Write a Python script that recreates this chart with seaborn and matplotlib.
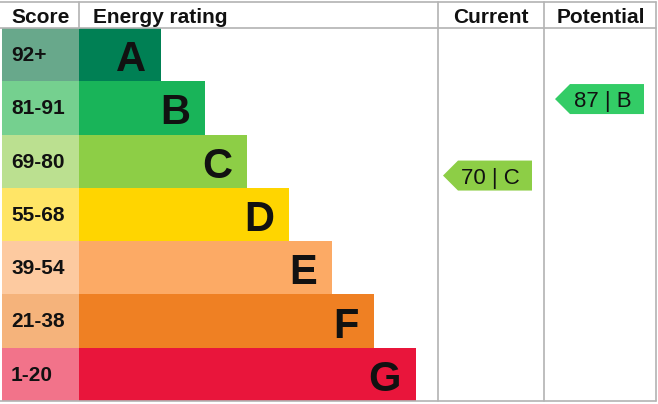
import numpy as np
import matplotlib
matplotlib.use("Agg")
import matplotlib.pyplot as plt
from matplotlib.patches import Polygon
import seaborn as sns

# ---------------------------------------------------------
# data
# ---------------------------------------------------------
bands = ["A", "B", "C", "D", "E", "F", "G"]
score_ranges = ["92+", "81-91", "69-80", "55-68", "39-54", "21-38", "1-20"]
band_lo = [92, 81, 69, 55, 39, 21, 1]
band_hi = [100, 91, 80, 68, 54, 38, 20]
bar_len = [82, 126, 168, 210, 253, 295, 337]   # bar length, px from bar start
bar_colors = ["#008054", "#19b459", "#8dce46", "#ffd500", "#fcaa65", "#ef8023", "#e9153b"]
score_colors = ["#68a88b", "#75d08f", "#bbe090", "#ffe566", "#fdcaa0", "#f5b37b", "#f2738a"]

current_score, current_band = 70, "C"
potential_score, potential_band = 87, "B"

# ---------------------------------------------------------
# layout
# ---------------------------------------------------------
W, H = 658, 404
TOP, HEAD, BOTTOM = 2, 28, 401
BAR_X0 = 79
COL_CUR, COL_POT, RIGHT = 438, 544, 656
ROW_PX = (BOTTOM - HEAD) / len(bands)
LINE_C = "#b3b3b3"
TXT_C = "#111111"

sns.set_style("white")
plt.rcParams["font.family"] = ["Liberation Sans", "DejaVu Sans"]

fig = plt.figure(figsize=(W / 100, H / 100), dpi=100)


def px_axes(x0, y0, x1, y1):
    return fig.add_axes([x0 / W, 1 - y1 / H, (x1 - x0) / W, (y1 - y0) / H])


# body: x in px relative to bar start, y in rows
body = px_axes(2, HEAD, RIGHT, BOTTOM)
sns.barplot(x=bar_len, y=bands, hue=bands, palette=bar_colors, orient="h",
            width=1.0, saturation=1, legend=False, ax=body, linewidth=0)

# score cells
body.barh(np.arange(len(bands)), BAR_X0 - 2, left=-(BAR_X0 - 2), height=1.0,
          color=score_colors, linewidth=0)

for i, (b, s, L) in enumerate(zip(bands, score_ranges, bar_len)):
    body.text(-(BAR_X0 - 11), i + 0.12, s, ha="left", va="baseline",
              fontsize=15, fontweight="bold", color=TXT_C)
    body.text(L - 15, i + 0.31, b, ha="right", va="baseline",
              fontsize=30, fontweight="bold", color=TXT_C)


def score_row(score):
    for i, (lo, hi) in enumerate(zip(band_lo, band_hi)):
        if lo <= score <= hi:
            return i + (hi - score) / (hi - lo + 2) - 0.5
    return len(bands) - 1


def arrow(score, band, col_right):
    y = score_row(score)
    x1 = col_right - 12 - BAR_X0
    x0 = x1 - 89
    h = 30 / ROW_PX / 2
    tip = 15
    color = bar_colors[bands.index(band)]
    if band == "B":
        color = "#33cc66"
    pts = [(x0, y), (x0 + tip, y - h), (x1, y - h), (x1, y + h), (x0 + tip, y + h)]
    body.add_patch(Polygon(pts, closed=True, facecolor=color, edgecolor="none"))
    body.text((x0 + x1) / 2 + 3, y + 8 / ROW_PX, f"{score} | {band}", ha="center",
              va="baseline", fontsize=16, color=TXT_C)


arrow(current_score, current_band, COL_POT)
arrow(potential_score, potential_band, RIGHT)

body.set_xlim(-(BAR_X0 - 2), RIGHT - BAR_X0)
body.set_ylim(len(bands) - 0.5, -0.5)
body.axis("off")

# overlay: frame lines and header, in px
ov = fig.add_axes([0, 0, 1, 1])
ov.set_xlim(0, W)
ov.set_ylim(H, 0)
ov.axis("off")
ov.patch.set_alpha(0)

lw = 1.2
for y in (TOP, HEAD, BOTTOM):
    ov.plot([0, RIGHT], [y, y], color=LINE_C, lw=lw)
ov.plot([BAR_X0, BAR_X0], [TOP, HEAD], color=LINE_C, lw=lw)
for x in (COL_CUR, COL_POT, RIGHT):
    ov.plot([x, x], [TOP, BOTTOM], color=LINE_C, lw=lw)

hy = 23
hdr = dict(va="baseline", fontsize=15, fontweight="bold", color=TXT_C)
ov.text(11, hy, "Score", ha="left", **hdr)
ov.text(93, hy, "Energy rating", ha="left", **hdr)
ov.text((COL_CUR + COL_POT) / 2, hy, "Current", ha="center", **hdr)
ov.text((COL_POT + RIGHT) / 2 + 1, hy, "Potential", ha="center", **hdr)

fig.savefig("out.png", dpi=100)
